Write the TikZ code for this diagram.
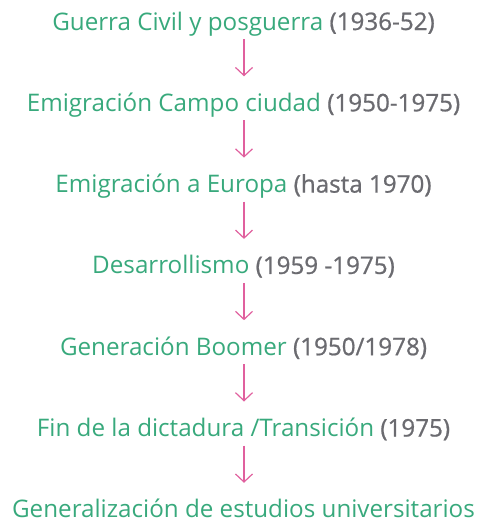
\documentclass[tikz,border=0pt]{standalone}
\usepackage{fontspec}
\setmainfont{Open Sans}
\newfontfamily\medfont[FakeBold=0.8]{Open Sans}
\usetikzlibrary{arrows.meta}
\definecolor{tgreen}{HTML}{38A97C}
\definecolor{tgray}{HTML}{6B6B70}
\definecolor{tpink}{HTML}{E0609E}
\newcommand{\yr}[1]{{\medfont\color{tgray}#1}}
\begin{document}
\begin{tikzpicture}[x=1pt,y=-1pt,
  lbl/.style={anchor=base,inner sep=0pt,text=tgreen,font=\fontsize{24.2}{28}\selectfont},
  arr/.style={draw=tpink,line width=1.2pt,-{Straight Barb[length=8pt,width=17pt]}}]
\useasboundingbox (0,0) rectangle (477,531);
\node[lbl] (n1) at (243.5,30) {Guerra Civil y posguerra \yr{(1936-52)}};
\node[lbl] (n2) at (243.5,111.3) {Emigración Campo ciudad \yr{(1950-1975)}};
\node[lbl] (n3) at (243.5,192.6) {Emigración a Europa \yr{(hasta 1970)}};
\node[lbl] (n4) at (243.5,273.9) {Desarrollismo \yr{(1959 -1975)}};
\node[lbl] (n5) at (243.5,355.2) {Generación Boomer \yr{(1950/1978)}};
\node[lbl] (n6) at (243.5,436.5) {Fin de la dictadura /Transición \yr{(1975)}};
\node[lbl] (n7) at (243.5,517.8) {Generalización de estudios universitarios};
\foreach \a/\b in {n1/n2,n2/n3,n3/n4,n4/n5,n5/n6,n6/n7}
  \draw[arr] ([xshift=0.5pt,yshift=-9pt]\a.base) -- ([xshift=0.5pt,yshift=35pt]\b.base);
\end{tikzpicture}
\end{document}
